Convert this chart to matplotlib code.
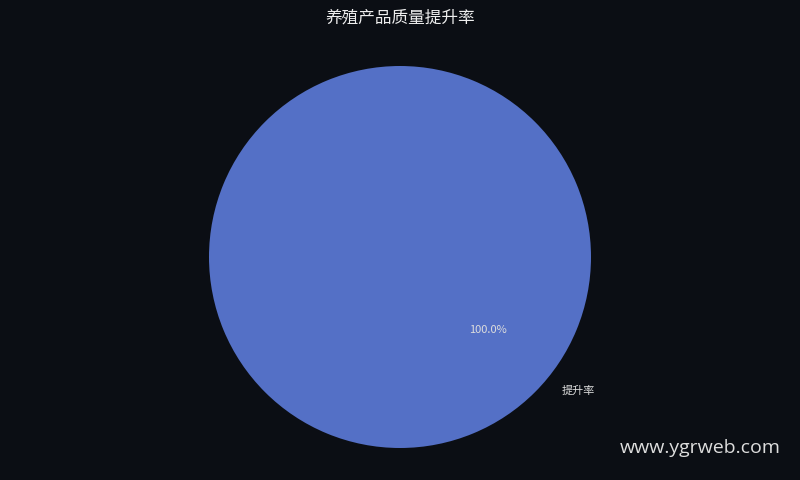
import matplotlib
matplotlib.use('Agg')
import matplotlib.pyplot as plt

plt.rcParams['font.family'] = ['Noto Sans CJK SC', 'DejaVu Sans']

# data
labels = ['提升率']
values = [100]
title = '养殖产品质量提升率'

bg = '#0b0e14'
fig = plt.figure(figsize=(8, 4.8), dpi=100, facecolor=bg)

# pie axes: centre (400, 257) px, radius 191 px
r = 191
ax = fig.add_axes([(400 - r) / 800, (223 - r) / 480, 2 * r / 800, 2 * r / 480])
ax.set_facecolor(bg)
wedges, texts, autotexts = ax.pie(values, labels=labels, colors=['#5470c6'],
                                  autopct='%1.1f%%', startangle=140.4,
                                  labeldistance=1.1, pctdistance=0.6,
                                  textprops={'color': '#dddddd', 'fontsize': 8})
ax.set_xlim(-1, 1)
ax.set_ylim(-1, 1)
ax.set_aspect('equal')

fig.text(0.5, 1 - 18 / 480, title, ha='center', va='center',
         color='#eeeeee', fontsize=12)
fig.text(781 / 800, 1 - 448 / 480, 'www.ygrweb.com', ha='right', va='center',
         color='#dddddd', fontsize=14, family='Open Sans')

fig.savefig('out.png', facecolor=bg)
